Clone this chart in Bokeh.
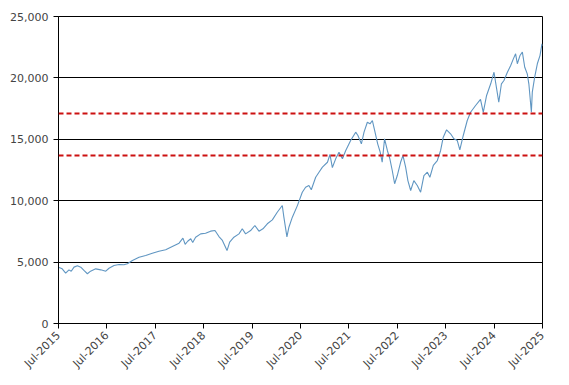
import numpy as np
import pandas as pd
from math import pi
from bokeh.plotting import figure
from bokeh.models import (ColumnDataSource, Span, FixedTicker, NumeralTickFormatter,
                          DatetimeTickFormatter, Range1d)
from bokeh.embed import file_html
from bokeh.resources import INLINE

dates = [
    "2015-07-01", "2015-07-29", "2015-08-24", "2015-09-18", "2015-10-05", "2015-10-26",
    "2015-11-21", "2015-12-16", "2016-01-09", "2016-02-04", "2016-02-28", "2016-04-07",
    "2016-05-15", "2016-06-22", "2016-07-16", "2016-08-23", "2016-09-30", "2016-11-06",
    "2016-12-02", "2017-01-09", "2017-02-28", "2017-04-19", "2017-06-08", "2017-07-28",
    "2017-09-17", "2017-11-06", "2017-12-27", "2018-01-25", "2018-02-11", "2018-03-02",
    "2018-03-25", "2018-04-09", "2018-05-01", "2018-06-08", "2018-07-15", "2018-08-22",
    "2018-09-24", "2018-10-24", "2018-11-19", "2018-12-24", "2019-01-13", "2019-02-14",
    "2019-03-24", "2019-04-18", "2019-05-13", "2019-06-20", "2019-07-22", "2019-08-22",
    "2019-09-21", "2019-10-24", "2019-12-01", "2020-01-07", "2020-02-14", "2020-02-26",
    "2020-03-20", "2020-04-04", "2020-04-30", "2020-06-07", "2020-07-14", "2020-08-08",
    "2020-09-02", "2020-09-20", "2020-10-23", "2020-11-17", "2020-12-13", "2021-01-20",
    "2021-02-08", "2021-02-26", "2021-03-23", "2021-04-17", "2021-05-13", "2021-06-07",
    "2021-07-14", "2021-08-21", "2021-09-07", "2021-10-03", "2021-10-23", "2021-11-17",
    "2021-12-07", "2021-12-25", "2022-01-11", "2022-02-03", "2022-02-22", "2022-03-09",
    "2022-03-27", "2022-04-17", "2022-05-06", "2022-05-24", "2022-06-11", "2022-07-01",
    "2022-07-26", "2022-08-13", "2022-09-02", "2022-09-19", "2022-10-10", "2022-11-03",
    "2022-11-29", "2022-12-24", "2023-01-18", "2023-02-13", "2023-03-04", "2023-03-30",
    "2023-04-29", "2023-05-24", "2023-06-13", "2023-07-08", "2023-08-07", "2023-09-01",
    "2023-09-27", "2023-10-16", "2023-11-11", "2023-12-11", "2024-01-05", "2024-02-12",
    "2024-03-20", "2024-04-10", "2024-05-05", "2024-06-05", "2024-06-30", "2024-07-20",
    "2024-08-05", "2024-08-25", "2024-09-13", "2024-10-09", "2024-11-03", "2024-11-23",
    "2024-12-10", "2024-12-23", "2025-01-12", "2025-01-30", "2025-02-17", "2025-03-08",
    "2025-03-20", "2025-04-08", "2025-04-15", "2025-05-03", "2025-05-23", "2025-06-12",
    "2025-06-27", "2025-07-01",
]
values = [
    4590, 4450, 4100, 4370, 4250, 4590,
    4700, 4590, 4320, 4050, 4260, 4450,
    4370, 4260, 4500, 4720, 4800, 4780,
    4860, 5130, 5400, 5540, 5720, 5890,
    6000, 6270, 6540, 6950, 6450, 6700,
    6900, 6600, 7030, 7300, 7350, 7520,
    7570, 7080, 6760, 5940, 6620, 7030,
    7300, 7710, 7300, 7570, 7980, 7520,
    7710, 8120, 8440, 9060, 9610, 8660,
    7050, 7840, 8660, 9600, 10690, 11100,
    11240, 10890, 11910, 12320, 12730, 13130,
    13760, 12700, 13410, 13950, 13410, 14090,
    14900, 15580, 15310, 14630, 15580, 16390,
    16260, 16530, 15720, 14630, 13950, 13130,
    15040, 14090, 13410, 12460, 11380, 12050,
    13130, 13680, 12730, 11640, 10830, 11640,
    11240, 10690, 12050, 12320, 11910, 12870,
    13270, 14090, 15170, 15770, 15450, 15040,
    14900, 14140, 15310, 16530, 17200, 17750,
    18250, 17200, 18570, 19520, 20460, 19110,
    18020, 19520, 19790, 20460, 21010, 21550,
    21960, 21150, 21820, 22100, 20870, 20330,
    19520, 17200, 18840, 20060, 21150, 21820,
    22770, 22600,
]
threshold_levels = [17100, 13680]
tick_dates = ["2015-07-01", "2016-07-01", "2017-07-01", "2018-07-01", "2019-07-01",
              "2020-07-01", "2021-07-01", "2022-07-01", "2023-07-01", "2024-07-01",
              "2025-07-01"]
y_ticks = [0, 5000, 10000, 15000, 20000, 25000]

dt = pd.to_datetime(dates)
src = ColumnDataSource(dict(x=dt, y=values))
tick_ms = [pd.Timestamp(d).value / 1e6 for d in tick_dates]

p = figure(width=561, height=377, output_backend="svg", toolbar_location=None,
           x_axis_type="datetime",
           x_range=Range1d(tick_ms[0], tick_ms[-1]),
           y_range=Range1d(0, 25000),
           min_border_left=58, min_border_right=19, min_border_top=16, min_border_bottom=54)

p.line("x", "y", source=src, line_color="#6096c2", line_width=1.1)

for lv in threshold_levels:
    p.add_layout(Span(location=lv, dimension="width", line_color="#cc1111",
                      line_width=2, line_dash="5 3"))

p.outline_line_color = "black"
p.outline_line_width = 1
p.xgrid.grid_line_color = None
p.ygrid.grid_line_color = "black"
p.ygrid.grid_line_width = 1

p.yaxis.ticker = FixedTicker(ticks=y_ticks)
p.yaxis.formatter = NumeralTickFormatter(format="0,0")
p.xaxis.ticker = FixedTicker(ticks=tick_ms)
p.xaxis.formatter = DatetimeTickFormatter(days="%b-%Y", months="%b-%Y", years="%b-%Y")
p.xaxis.major_label_orientation = pi / 4

for ax in (p.xaxis, p.yaxis):
    ax.axis_line_color = "black"
    ax.axis_line_width = 1
    ax.major_tick_line_color = "black"
    ax.major_tick_in = 0
    ax.major_tick_out = 5
    ax.minor_tick_line_color = None
    ax.major_label_text_font = "DejaVu Sans"
    ax.major_label_text_font_size = "11px"
    ax.major_label_text_color = "#444444"

p.background_fill_color = "white"
p.border_fill_color = "white"

open("out.html", "w").write(file_html(p, INLINE))
